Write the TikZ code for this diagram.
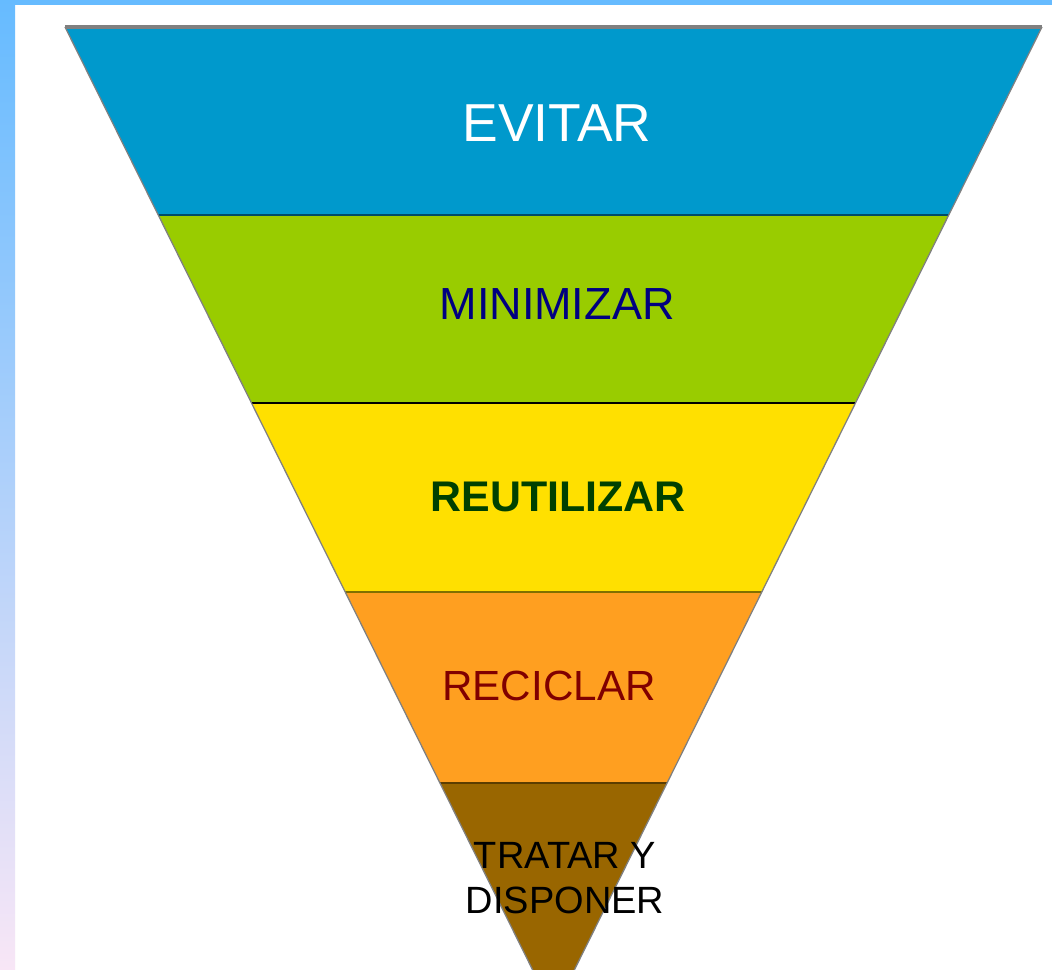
\documentclass[tikz,border=0pt]{standalone}
\usepackage{fontspec}
\setmainfont{Liberation Sans}
\definecolor{frameblue}{HTML}{66BBFF}
\definecolor{framemid}{HTML}{B8D0F0}
\definecolor{framepink}{HTML}{F8E6F6}
\definecolor{evitarcol}{HTML}{0099CC}
\definecolor{minimizarcol}{HTML}{99CC00}
\definecolor{reutilizarcol}{HTML}{FFE000}
\definecolor{reciclarcol}{HTML}{FF9F20}
\definecolor{tratarcol}{HTML}{996600}

\begin{document}
\begin{tikzpicture}[x=0.025cm, y=-0.025cm,
	label/.style={align=center, inner sep=0pt}]
	
	% --- 1. Frame and page ---
	\useasboundingbox (0,0) rectangle (1052,970);
	\fill[white] (0,0) rectangle (1052,970);
	\fill[frameblue] (0,0) rectangle (1052,5);
	\shade[top color=frameblue, middle color=framemid, bottom color=framepink] (0,0) rectangle (15,970);
	
	% --- 2. Corners of the funnel ---
	% the apex lies below the page, the page cuts it off
	\coordinate (TL) at (65,27);
	\coordinate (TR) at (1042,27);
	\coordinate (apex) at (553.5,1012);
	
	% --- 3. Bands ---
	\begin{scope}
		\clip (0,0) rectangle (1052,970);
		\clip (TL) -- (TR) -- (apex) -- cycle;
		\foreach \ya/\yb/\col in {27/215/evitarcol, 215/403/minimizarcol, 403/592/reutilizarcol, 592/783/reciclarcol, 783/1020/tratarcol} {
			\fill[\col] (0,\ya) rectangle (1052,\yb);
		}
		% separators between the bands
		\draw[evitarcol!50!black, line width=1.5pt] (0,215) -- (1052,215);
		\draw[black, line width=2pt] (0,403) -- (1052,403);
		\draw[reutilizarcol!50!black, line width=1.5pt] (0,592) -- (1052,592);
		\draw[tratarcol!60!black, line width=1.5pt] (0,783) -- (1052,783);
	\end{scope}
	
	% --- 4. Outline ---
	\draw[gray, line width=0.9pt] (TL) -- (apex) -- (TR);
	\draw[gray, line width=2.2pt] (TL) -- (TR);
	
	% --- 5. Labels ---
	\node[label, white, font=\fontsize{38}{44}\selectfont] (evitar) at (557,123) {EVITAR};
	\node[label, blue!50!black, font=\fontsize{32}{38}\selectfont] (minimizar) at (557,304) {MINIMIZAR};
	\node[label, green!25!black, font=\bfseries\fontsize{30.5}{36}\selectfont] (reutilizar) at (558,497) {REUTILIZAR};
	\node[label, red!50!black, font=\fontsize{30}{36}\selectfont] (reciclar) at (549,686) {RECICLAR};
	\node[label, black, font=\fontsize{27}{32}\selectfont] (tratar) at (565,878) {TRATAR Y\\DISPONER};
	
\end{tikzpicture}
\end{document}
